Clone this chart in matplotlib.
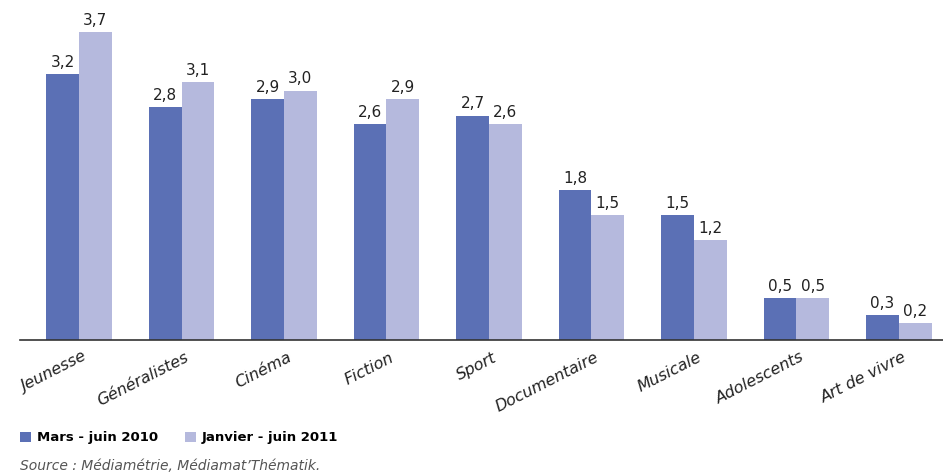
import matplotlib
matplotlib.use("Agg")
import matplotlib.pyplot as plt
import numpy as np

categories = ["Jeunesse", "Généralistes", "Cinéma", "Fiction", "Sport",
              "Documentaire", "Musicale", "Adolescents", "Art de vivre"]
mars_2010 = [3.2, 2.8, 2.9, 2.6, 2.7, 1.8, 1.5, 0.5, 0.3]
janv_2011 = [3.7, 3.1, 3.0, 2.9, 2.6, 1.5, 1.2, 0.5, 0.2]
series_names = ["Mars - juin 2010", "Janvier - juin 2011"]

dark = "#5B70B5"
light = "#B5B9DD"

fig = plt.figure(figsize=(9.43, 4.75), dpi=100)
# axes: left 20px, right 943px, top 0, baseline at 340px
ax = fig.add_axes([20 / 943, 1 - 340 / 475, 923 / 943, 340 / 475])

x = np.arange(len(categories))
w = 0.32
b1 = ax.bar(x - w / 2, mars_2010, w, color=dark, label=series_names[0])
b2 = ax.bar(x + w / 2, janv_2011, w, color=light, label=series_names[1])

for bars, vals in ((b1, mars_2010), (b2, janv_2011)):
    for r, v in zip(bars, vals):
        ax.text(r.get_x() + r.get_width() / 2, v + 0.05, f"{v:.1f}".replace(".", ","),
                ha="center", va="bottom", fontsize=11, color="#222222")

ax.set_xlim(-0.576, 8.43)
ax.set_ylim(0, 4.09)
ax.set_yticks([])
ax.set_xticks(x + 0.03)
ax.set_xticklabels(categories, rotation=27, ha="right", rotation_mode="anchor",
                   fontsize=11.5, fontstyle="italic", color="#222222")
ax.tick_params(axis="x", length=0, pad=7)
for s in ("top", "right", "left"):
    ax.spines[s].set_visible(False)
ax.spines["bottom"].set_color("#333333")
ax.spines["bottom"].set_linewidth(1.2)

leg = fig.legend(handles=[b1, b2], labels=series_names, loc="center left",
                 bbox_to_anchor=(8 / 943, 1 - 438 / 475), ncol=2, frameon=False,
                 handlelength=0.85, handleheight=0.85, handletextpad=0.45,
                 columnspacing=2.0, prop={"size": 9.5, "weight": "bold"})

fig.text(20 / 943, 1 - 466 / 475, "Source : Médiamétrie, Médiamat’Thématik.",
         fontsize=10, fontstyle="italic", color="#555555", va="center")

fig.savefig("out.png", dpi=100)
